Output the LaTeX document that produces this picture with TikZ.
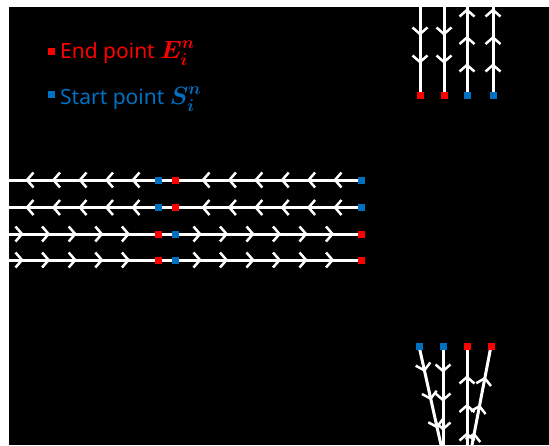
\documentclass[tikz,border=0pt]{standalone}
\usepackage{fontspec}
\setmainfont{Noto Sans}
\usetikzlibrary{decorations.markings}
\pgfdeclarelayer{bg}
\pgfdeclarelayer{flow}
\pgfsetlayers{bg,flow,main}
\definecolor{endred}{RGB}{255,0,0}
\definecolor{startblue}{RGB}{0,112,192}
\tikzset{
  pt/.style={rectangle, minimum size=7pt, inner sep=0pt, fill=#1},
  flowline/.style={draw=white, line width=3pt},
  chev/.style={postaction={decorate},
    decoration={markings, mark=between positions #1 with
      {\draw[white, line width=2.5pt, line join=round] (-6.5pt,7.5pt) -- (0pt,0pt) -- (-6.5pt,-7.5pt);}}},
  legend/.style={anchor=base west, inner sep=0pt, font=\fontsize{21}{26}\selectfont, text=#1}
}
\begin{document}
\begin{tikzpicture}[x=1pt,y=-1pt]
\useasboundingbox (0,0) rectangle (549,445);
\begin{pgfonlayer}{bg}
  \fill[white] (0,0) rectangle (549,445);
  \fill[black] (9,7) rectangle (549,445);
\end{pgfonlayer}

% legend
\node[pt=endred] (lgE) at (51,51) {};
\node[legend=endred] (lgEt) at (60,58) {End point {\fontsize{23}{26}\selectfont\boldmath$E_i^n$}};
\node[pt=startblue] (lgS) at (51,94) {};
\node[legend=startblue] (lgSt) at (60,104) {Start point {\fontsize{23}{26}\selectfont\boldmath$S_i^n$}};

% top group
\node[pt=endred] (t1) at (420,95) {};
\node[pt=endred] (t2) at (444,95) {};
\node[pt=startblue] (t3) at (467,95) {};
\node[pt=startblue] (t4) at (493,95) {};
\coordinate (t1e) at (420,7);
\coordinate (t2e) at (444,7);
\coordinate (t3e) at (467,7);
\coordinate (t4e) at (493,7);
\begin{pgfonlayer}{flow}
  \draw[flowline, chev=27pt and 60pt step 28pt] (t1e) -- (t1.center);
  \draw[flowline, chev=27pt and 60pt step 28pt] (t2e) -- (t2.center);
  \draw[flowline, chev=30pt and 90pt step 27.5pt] (t3.center) -- (t3e);
  \draw[flowline, chev=30pt and 90pt step 27.5pt] (t4.center) -- (t4e);
\end{pgfonlayer}

% horizontal group, leftward rows
\foreach \r/\y in {1/180, 2/207.5} {
  \node[pt=startblue] (hA\r) at (361,\y) {};
  \node[pt=endred]    (hB\r) at (175,\y) {};
  \node[pt=startblue] (hC\r) at (158,\y) {};
  \coordinate (hD\r) at (9,\y);
  \begin{pgfonlayer}{flow}
    \draw[flowline, chev=26pt and 160pt step 26.4pt] (hA\r.center) -- (hB\r.center);
    \draw[flowline] (hB\r.center) -- (hC\r.center);
    \draw[flowline, chev=25pt and 135pt step 26.5pt] (hC\r.center) -- (hD\r);
  \end{pgfonlayer}
}
% horizontal group, rightward rows
\foreach \r/\y in {3/234, 4/260} {
  \coordinate (hD\r) at (9,\y);
  \node[pt=endred]    (hC\r) at (158,\y) {};
  \node[pt=startblue] (hB\r) at (175,\y) {};
  \node[pt=endred]    (hA\r) at (361,\y) {};
  \begin{pgfonlayer}{flow}
    \draw[flowline, chev=13pt and 125pt step 26.6pt] (hD\r) -- (hC\r.center);
    \draw[flowline] (hC\r.center) -- (hB\r.center);
    \draw[flowline, chev=25pt and 160pt step 26.5pt] (hB\r.center) -- (hA\r.center);
  \end{pgfonlayer}
}

% bottom group
\node[pt=startblue] (b1) at (419,346) {};
\node[pt=startblue] (b2) at (443,346) {};
\node[pt=endred]    (b3) at (467,346) {};
\node[pt=endred]    (b4) at (491,346) {};
\coordinate (b1e) at (441,445);
\coordinate (b2e) at (443,445);
\coordinate (b3e) at (467,445);
\coordinate (b4e) at (472,445);
\begin{pgfonlayer}{flow}
  \draw[flowline, chev=25pt and 90pt step 29pt] (b1.center) -- (b1e);
  \draw[flowline, chev=25pt and 90pt step 29pt] (b2.center) -- (b2e);
  \draw[flowline, chev=11pt and 70pt step 28.5pt] (b3e) -- (b3.center);
  \draw[flowline, chev=11pt and 70pt step 28.5pt] (b4e) -- (b4.center);
\end{pgfonlayer}
\end{tikzpicture}
\end{document}
